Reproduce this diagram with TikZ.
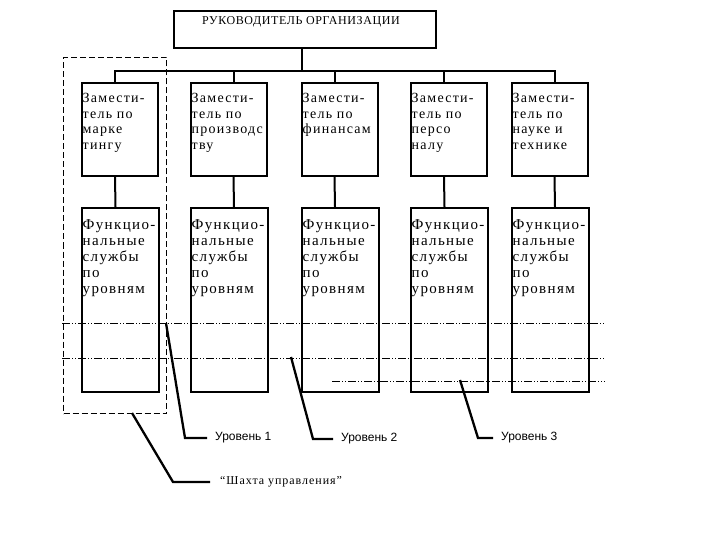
\documentclass[tikz,border=0pt]{standalone}
\usepackage{fontspec}
\setmainfont{Liberation Serif}
\newfontfamily\boxfont[LetterSpace=9]{Liberation Serif}
\newfontfamily\funfont[LetterSpace=9]{Liberation Serif}
\newfontfamily\shfont[LetterSpace=8]{Liberation Serif}
\newfontfamily\capsfont[LetterSpace=5]{Liberation Serif}
\newfontfamily\lblfont{Liberation Sans}
\begin{document}
\begin{tikzpicture}[x=1pt,y=-1pt,
  box/.style={draw=black, line width=2pt, inner sep=0pt, anchor=north west},
  dep/.style={box, minimum width=76pt, minimum height=93pt},
  fun/.style={box, minimum width=77pt, minimum height=184pt},
  dtext/.style={anchor=north west, inner sep=0pt, align=left, font=\boxfont\fontsize{14}{15.6}\selectfont},
  ftext/.style={anchor=north west, inner sep=0pt, align=left, font=\funfont\fontsize{15}{16}\selectfont},
  conn/.style={line width=2pt},
  levline/.style={line width=0.8pt, dash pattern=on 8pt off 2pt on 1pt off 2pt on 1pt off 2pt},
  leader/.style={line width=2.3pt},
  lbl/.style={anchor=west, inner ysep=0pt, inner xsep=8pt, font=\lblfont\fontsize{12}{14}\selectfont}
]
\useasboundingbox (0,0) rectangle (720,540);

% top box
\node[box, minimum width=262pt, minimum height=37pt] (boss) at (173,10) {};
\node[anchor=north west, inner sep=0pt, font=\capsfont\fontsize{12}{14}\selectfont] (bosst) at (202,16) {РУКОВОДИТЕЛЬ ОРГАНИЗАЦИИ};

% deputies
\node[dep] (d1) at (81,82) {};
\node[dep] (d2) at (190,82) {};
\node[dep] (d3) at (301,82) {};
\node[dep] (d4) at (410,82) {};
\node[dep] (d5) at (511,82) {};
\node[dtext] (d1t) at ([xshift=1.5pt,yshift=-11pt]d1.north west) {Замести-\\тель по\\марке\\тингу};
\node[dtext] (d2t) at ([xshift=1.5pt,yshift=-11pt]d2.north west) {Замести-\\тель по\\производс\\тву};
\node[dtext] (d3t) at ([xshift=1.5pt,yshift=-11pt]d3.north west) {Замести-\\тель по\\финансам};
\node[dtext] (d4t) at ([xshift=1.5pt,yshift=-11pt]d4.north west) {Замести-\\тель по\\персо\\налу};
\node[dtext] (d5t) at ([xshift=1.5pt,yshift=-11pt]d5.north west) {Замести-\\тель по\\науке и\\технике};

% functional services
\node[fun] (f1) at (81,207) {};
\node[fun] (f2) at (190,207) {};
\node[fun] (f3) at (301,207) {};
\node[fun] (f4) at (410,207) {};
\node[fun] (f5) at (511,207) {};
\foreach \i in {1,...,5}{
  \node[ftext] (f\i t) at ([xshift=1.5pt,yshift=-12pt]f\i.north west) {Функцио-\\нальные\\службы\\по\\уровням};
}

% tree connectors
\coordinate (bus) at (302,71);
\coordinate (c1) at ([xshift=-5pt]d1.north);
\coordinate (c2) at ([xshift=4.5pt]d2.north);
\coordinate (c3) at ([xshift=-5.5pt]d3.north);
\coordinate (c4) at ([xshift=-5pt]d4.north);
\coordinate (c5) at ([xshift=4.5pt]d5.north);
\draw[conn] (boss.south -| bus) -- (bus);
\draw[conn] (c1) |- (bus) -| (c5);
\draw[conn] (c2) -- (c2 |- bus);
\draw[conn] (c3) -- (c3 |- bus);
\draw[conn] (c4) -- (c4 |- bus);
\draw[conn] ([xshift=-5pt]d1.south) -- ([xshift=-5pt]f1.north);
\draw[conn] ([xshift=4.5pt]d2.south) -- ([xshift=4.5pt]f2.north);
\draw[conn] ([xshift=-5.5pt]d3.south) -- ([xshift=-5.5pt]f3.north);
\draw[conn] ([xshift=-5pt]d4.south) -- ([xshift=-5pt]f4.north);
\draw[conn] ([xshift=4.5pt]d5.south) -- ([xshift=4.5pt]f5.north);

% level lines
\coordinate (l1a) at (62,323); \coordinate (l1b) at (605,323);
\coordinate (l2a) at (62,358); \coordinate (l2b) at (605,358);
\coordinate (l3a) at (332,381); \coordinate (l3b) at (605,381);
\draw[levline] (l1a) -- (l1b);
\draw[levline] (l2a) -- (l2b);
\draw[levline] (l3a) -- (l3b);

% shaft
\node[draw=black, line width=1pt, dash pattern=on 6pt off 3pt, inner sep=0pt,
      minimum width=103pt, minimum height=356pt, anchor=north west] (shaft) at (63,57) {};

% labels
\node[lbl] (lv1) at (207,438) {Уровень 1};
\node[lbl] (lv2) at (333,439) {Уровень 2};
\node[lbl] (lv3) at (493,438) {Уровень 3};
\node[anchor=west, inner ysep=0pt, inner xsep=10pt, font=\shfont\fontsize{12}{14}\selectfont] (sh) at (210,482) {“Шахта управления”};

\coordinate (p1) at (166,323); \coordinate (q1) at (185,438);
\coordinate (p2) at (291,357); \coordinate (q2) at (313,439);
\coordinate (p3) at (460,380); \coordinate (q3) at (478,438);
\coordinate (p4) at (132,413); \coordinate (q4) at (173,482);
\draw[leader] (p1) -- (q1) -- (lv1.west);
\draw[leader] (p2) -- (q2) -- (lv2.west);
\draw[leader] (p3) -- (q3) -- (lv3.west);
\draw[leader] (p4) -- (q4) -- (sh.west);
\end{tikzpicture}
\end{document}
